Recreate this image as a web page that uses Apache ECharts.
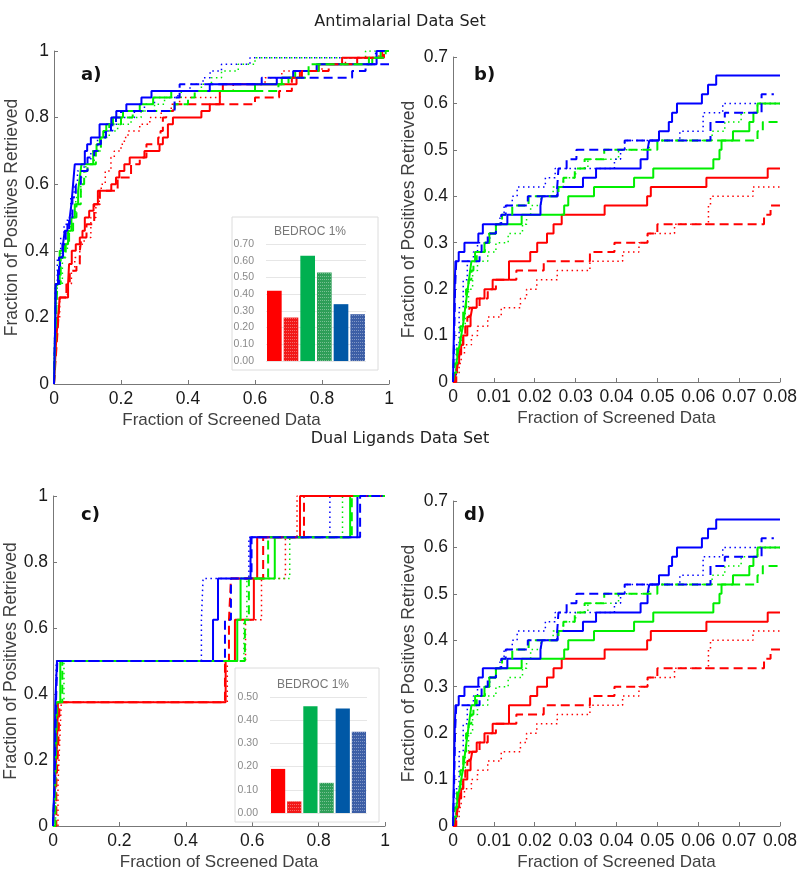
<!DOCTYPE html>
<html><head><meta charset="utf-8">
<script src="https://cdn.jsdelivr.net/npm/echarts@6/dist/echarts.min.js"></script>
<style>html,body{margin:0;padding:0;background:#fff}#c{width:800px;height:872px}</style>
</head><body><div id="c"></div>
<script>
// ---------- Titles / labels ----------
const sectionTitles = ['Antimalarial Data Set', 'Dual Ligands Data Set'];
const panelLabels = ['a)', 'b)', 'c)', 'd)'];
const xName = 'Fraction of Screened Data';
const yName = 'Fraction of Positives Retrieved';
const insetTitle = 'BEDROC 1%';

// ---------- Panel a (Antimalarial, full range) ----------
const aRedSolid = [[0,0],[0.003,0.06],[0.006,0.12],[0.01,0.18],[0.014,0.22],[0.017,0.26],[0.042,0.3],[0.045,0.36],[0.053,0.4],[0.065,0.42],[0.077,0.44],[0.085,0.46],[0.092,0.5],[0.105,0.52],[0.118,0.54],[0.131,0.58],[0.171,0.6],[0.185,0.62],[0.195,0.64],[0.21,0.66],[0.226,0.68],[0.27,0.7],[0.315,0.72],[0.325,0.74],[0.34,0.78],[0.355,0.8],[0.44,0.82],[0.465,0.84],[0.495,0.88],[0.504,0.9],[0.724,0.92],[0.734,0.94],[0.79,0.96],[0.86,0.98],[0.98,1.0],[1,1]];
const aRedDash = [[0,0],[0.004,0.06],[0.008,0.12],[0.012,0.18],[0.017,0.26],[0.037,0.3],[0.047,0.34],[0.067,0.36],[0.077,0.4],[0.082,0.44],[0.097,0.48],[0.12,0.54],[0.137,0.58],[0.19,0.62],[0.23,0.66],[0.256,0.68],[0.276,0.72],[0.311,0.74],[0.318,0.76],[0.325,0.8],[0.335,0.82],[0.356,0.84],[0.6,0.86],[0.672,0.88],[0.71,0.92],[0.74,0.94],[0.82,0.96],[0.905,0.98],[0.985,1.0],[1,1]];
const aRedDot = [[0,0],[0.003,0.1],[0.007,0.2],[0.017,0.26],[0.04,0.3],[0.052,0.34],[0.062,0.38],[0.077,0.42],[0.09,0.44],[0.11,0.5],[0.125,0.54],[0.135,0.58],[0.141,0.6],[0.153,0.64],[0.17,0.68],[0.18,0.7],[0.2,0.72],[0.21,0.74],[0.221,0.76],[0.256,0.78],[0.286,0.8],[0.32,0.82],[0.35,0.84],[0.375,0.86],[0.495,0.88],[0.535,0.9],[0.63,0.92],[0.68,0.94],[0.8,0.96],[0.87,0.98],[0.97,1.0],[1,1]];
const aGreenSolid = [[0,0],[0.002,0.1],[0.004,0.2],[0.007,0.3],[0.017,0.4],[0.032,0.42],[0.042,0.46],[0.052,0.5],[0.062,0.54],[0.072,0.58],[0.077,0.62],[0.082,0.66],[0.117,0.7],[0.127,0.72],[0.137,0.74],[0.147,0.76],[0.156,0.78],[0.176,0.8],[0.206,0.82],[0.256,0.84],[0.296,0.86],[0.35,0.88],[0.6,0.9],[0.68,0.92],[0.72,0.94],[0.79,0.96],[0.95,0.98],[0.975,1.0],[1,1]];
const aGreenDash = [[0,0],[0.003,0.1],[0.006,0.2],[0.01,0.3],[0.02,0.38],[0.035,0.42],[0.045,0.46],[0.057,0.5],[0.067,0.54],[0.08,0.6],[0.09,0.64],[0.1,0.66],[0.125,0.7],[0.14,0.74],[0.155,0.76],[0.165,0.78],[0.2,0.8],[0.235,0.82],[0.36,0.84],[0.4,0.86],[0.42,0.88],[0.67,0.9],[0.7,0.92],[0.76,0.96],[0.94,0.98],[0.99,1.0],[1,1]];
const aGreenDot = [[0,0],[0.003,0.1],[0.006,0.2],[0.01,0.3],[0.025,0.4],[0.04,0.46],[0.05,0.5],[0.065,0.56],[0.08,0.62],[0.095,0.66],[0.12,0.7],[0.14,0.74],[0.165,0.76],[0.19,0.78],[0.23,0.8],[0.26,0.82],[0.3,0.84],[0.33,0.86],[0.38,0.88],[0.44,0.9],[0.47,0.92],[0.5,0.94],[0.55,0.96],[0.6,0.98],[0.93,1.0],[1,1]];
const aBlueSolid = [[0,0],[0.002,0.1],[0.004,0.2],[0.005,0.3],[0.012,0.34],[0.018,0.38],[0.027,0.42],[0.032,0.46],[0.04,0.48],[0.047,0.5],[0.052,0.54],[0.057,0.6],[0.062,0.66],[0.092,0.7],[0.099,0.72],[0.11,0.74],[0.136,0.78],[0.171,0.8],[0.186,0.82],[0.216,0.84],[0.261,0.86],[0.291,0.88],[0.465,0.9],[0.665,0.92],[0.714,0.94],[0.784,0.96],[0.963,1.0],[1,1]];
const aBlueDash = [[0,0],[0.002,0.1],[0.004,0.2],[0.006,0.3],[0.015,0.38],[0.025,0.42],[0.035,0.46],[0.045,0.5],[0.055,0.56],[0.065,0.6],[0.08,0.64],[0.1,0.68],[0.12,0.7],[0.13,0.72],[0.14,0.74],[0.155,0.76],[0.17,0.78],[0.185,0.8],[0.2,0.82],[0.36,0.86],[0.375,0.9],[0.62,0.92],[0.89,0.94],[0.93,0.96],[1,0.96]];
const aBlueDot = [[0,0],[0.002,0.15],[0.004,0.3],[0.01,0.38],[0.02,0.44],[0.03,0.48],[0.04,0.5],[0.05,0.56],[0.06,0.6],[0.07,0.64],[0.09,0.66],[0.11,0.7],[0.13,0.74],[0.15,0.76],[0.175,0.78],[0.2,0.8],[0.24,0.82],[0.27,0.84],[0.3,0.86],[0.37,0.88],[0.406,0.9],[0.445,0.92],[0.466,0.94],[0.5,0.96],[0.585,0.98],[0.96,1.0],[1,1]];

// ---------- Panel b / d (early enrichment, 0-0.08) ----------
const bRedSolid = [[0,0],[0.0005,0.02],[0.001,0.04],[0.0015,0.06],[0.002,0.08],[0.0025,0.10],[0.0035,0.12],[0.0043,0.14],[0.0047,0.16],[0.0058,0.18],[0.0077,0.20],[0.0097,0.22],[0.0137,0.26],[0.0189,0.28],[0.0206,0.30],[0.023,0.32],[0.0246,0.34],[0.0266,0.36],[0.0371,0.38],[0.0475,0.40],[0.0484,0.42],[0.062,0.44],[0.077,0.46],[0.08,0.46]];
const bRedDash = [[0,0],[0.0008,0.02],[0.0012,0.04],[0.0016,0.06],[0.002,0.08],[0.0025,0.10],[0.003,0.12],[0.0035,0.14],[0.004,0.16],[0.0065,0.18],[0.0085,0.20],[0.0105,0.22],[0.0155,0.24],[0.0222,0.26],[0.0335,0.28],[0.0395,0.30],[0.0476,0.32],[0.05,0.34],[0.0761,0.36],[0.0777,0.38],[0.08,0.38]];
const bRedDot = [[0,0],[0.0008,0.02],[0.0015,0.04],[0.002,0.06],[0.0028,0.08],[0.0045,0.10],[0.006,0.12],[0.0085,0.14],[0.0118,0.16],[0.0165,0.18],[0.018,0.20],[0.0205,0.22],[0.0255,0.24],[0.0335,0.26],[0.0415,0.28],[0.0455,0.30],[0.0476,0.32],[0.0542,0.34],[0.0625,0.38],[0.063,0.40],[0.0734,0.42],[0.08,0.42]];
const bGreenSolid = [[0,0],[0.0003,0.02],[0.0008,0.04],[0.0012,0.06],[0.0016,0.08],[0.002,0.10],[0.0024,0.12],[0.0027,0.14],[0.003,0.16],[0.0033,0.18],[0.0036,0.20],[0.0039,0.22],[0.0042,0.24],[0.0045,0.26],[0.0054,0.28],[0.0077,0.30],[0.0089,0.32],[0.0105,0.34],[0.0168,0.36],[0.0272,0.38],[0.0282,0.40],[0.0345,0.42],[0.0443,0.44],[0.049,0.46],[0.0637,0.48],[0.0652,0.50],[0.0657,0.52],[0.0685,0.54],[0.0725,0.56],[0.0735,0.58],[0.0745,0.60],[0.08,0.60]];
const bGreenDash = [[0,0],[0.0004,0.04],[0.001,0.08],[0.0018,0.12],[0.0025,0.16],[0.0032,0.20],[0.0038,0.22],[0.0045,0.24],[0.005,0.26],[0.0058,0.28],[0.0078,0.30],[0.0088,0.32],[0.0105,0.34],[0.012,0.36],[0.0145,0.38],[0.0185,0.40],[0.0258,0.42],[0.027,0.44],[0.0298,0.46],[0.0322,0.48],[0.037,0.50],[0.05,0.52],[0.0745,0.54],[0.0758,0.56],[0.08,0.56]];
const bGreenDot = [[0,0],[0.0008,0.04],[0.0015,0.08],[0.0022,0.12],[0.003,0.16],[0.0038,0.20],[0.0048,0.24],[0.006,0.26],[0.0085,0.28],[0.0105,0.30],[0.0135,0.32],[0.017,0.34],[0.018,0.36],[0.019,0.38],[0.0215,0.40],[0.0245,0.42],[0.027,0.44],[0.03,0.46],[0.033,0.48],[0.0405,0.50],[0.048,0.52],[0.0634,0.54],[0.0665,0.56],[0.0705,0.58],[0.0745,0.60],[0.08,0.60]];
const bBlueSolid = [[0,0],[0.0002,0.1],[0.0004,0.2],[0.0006,0.26],[0.0014,0.28],[0.0028,0.30],[0.0062,0.32],[0.0073,0.34],[0.0133,0.36],[0.0214,0.38],[0.0218,0.40],[0.0256,0.42],[0.0318,0.44],[0.035,0.46],[0.0459,0.48],[0.0476,0.50],[0.048,0.52],[0.0504,0.54],[0.0528,0.56],[0.0536,0.58],[0.0548,0.60],[0.0609,0.62],[0.0624,0.64],[0.0644,0.66],[0.08,0.66]];
const bBlueDash = [[0,0],[0.0003,0.1],[0.0005,0.2],[0.0008,0.26],[0.0065,0.28],[0.007,0.30],[0.0085,0.32],[0.0105,0.34],[0.0118,0.36],[0.0129,0.38],[0.0183,0.40],[0.0255,0.42],[0.0258,0.46],[0.0278,0.48],[0.0302,0.50],[0.042,0.52],[0.063,0.56],[0.0665,0.58],[0.0755,0.62],[0.0785,0.62]];
const bBlueDot = [[0,0],[0.0008,0.08],[0.0015,0.16],[0.0025,0.22],[0.0035,0.26],[0.005,0.28],[0.006,0.30],[0.009,0.32],[0.0105,0.34],[0.0115,0.36],[0.0125,0.38],[0.0145,0.40],[0.0157,0.42],[0.0226,0.44],[0.025,0.46],[0.0395,0.48],[0.041,0.50],[0.042,0.52],[0.0555,0.54],[0.0612,0.58],[0.066,0.60],[0.08,0.60]];

// ---------- Panel c (Dual ligands, full range) ----------
const cRedSolid = [[0,0],[0.006,0.125],[0.012,0.25],[0.015,0.375],[0.52,0.5],[0.548,0.625],[0.605,0.75],[0.615,0.875],[0.744,1],[1,1]];
const cRedDash = [[0,0],[0.01,0.125],[0.016,0.25],[0.02,0.375],[0.518,0.5],[0.53,0.625],[0.536,0.75],[0.633,0.875],[0.756,1],[1,1]];
const cRedDot = [[0,0],[0.015,0.125],[0.02,0.25],[0.025,0.375],[0.525,0.5],[0.58,0.625],[0.628,0.75],[0.7,0.875],[0.735,1],[1,1]];
const cGreenSolid = [[0,0],[0.005,0.125],[0.008,0.25],[0.01,0.375],[0.022,0.5],[0.555,0.625],[0.565,0.75],[0.668,0.875],[0.895,1],[1,1]];
const cGreenDash = [[0,0],[0.007,0.125],[0.01,0.25],[0.012,0.375],[0.028,0.5],[0.578,0.625],[0.59,0.75],[0.648,0.875],[0.9,1],[1,1]];
const cGreenDot = [[0,0],[0.008,0.125],[0.012,0.25],[0.016,0.375],[0.033,0.5],[0.575,0.625],[0.584,0.75],[0.713,0.875],[0.872,1],[1,1]];
const cBlueSolid = [[0,0],[0.004,0.125],[0.005,0.25],[0.007,0.375],[0.012,0.5],[0.482,0.625],[0.497,0.75],[0.595,0.875],[0.917,1],[1,1]];
const cBlueDash = [[0,0],[0.005,0.125],[0.007,0.25],[0.009,0.375],[0.013,0.5],[0.518,0.625],[0.536,0.75],[0.598,0.875],[0.925,1],[1,1]];
const cBlueDot = [[0,0],[0.004,0.125],[0.006,0.25],[0.008,0.375],[0.01,0.5],[0.447,0.625],[0.452,0.75],[0.59,0.875],[0.834,1],[1,1]];

// ---------- Insets (BEDROC 1%) ----------
const insetCats = ['r1','r2','g1','g2','b1','b2'];
const insetAValues = [0.42, 0.26, 0.63, 0.53, 0.34, 0.28];
const insetCValues = [0.19, 0.05, 0.46, 0.13, 0.45, 0.35];

// ---------- Style ----------
const LINE = {red:'#ff0000', green:'#00ee00', blue:'#0000ff'};
const BAR = ['#ff0000','#f21818','#00b050','#2e9e58','#0058a6','#3c5ea6'];
const PATTERNED = [false,true,false,true,false,true];
const STYLE = {
  solid:{type:'solid', width:2},
  dash:{type:[9,5], width:2},
  dot:{type:[1.5,3.5], width:1.5}
};

const panels = [
  {sets:[[aRedDot,'red','dot'],[aRedDash,'red','dash'],[aRedSolid,'red','solid'],[aGreenDot,'green','dot'],[aGreenDash,'green','dash'],[aGreenSolid,'green','solid'],[aBlueDot,'blue','dot'],[aBlueDash,'blue','dash'],[aBlueSolid,'blue','solid']]},
  {sets:[[bRedDot,'red','dot'],[bRedDash,'red','dash'],[bRedSolid,'red','solid'],[bGreenDot,'green','dot'],[bGreenDash,'green','dash'],[bGreenSolid,'green','solid'],[bBlueDot,'blue','dot'],[bBlueDash,'blue','dash'],[bBlueSolid,'blue','solid']]},
  {sets:[[cRedDot,'red','dot'],[cRedDash,'red','dash'],[cRedSolid,'red','solid'],[cGreenDot,'green','dot'],[cGreenDash,'green','dash'],[cGreenSolid,'green','solid'],[cBlueDot,'blue','dot'],[cBlueDash,'blue','dash'],[cBlueSolid,'blue','solid']]},
  {sets:[[bRedDot,'red','dot'],[bRedDash,'red','dash'],[bRedSolid,'red','solid'],[bGreenDot,'green','dot'],[bGreenDash,'green','dash'],[bGreenSolid,'green','solid'],[bBlueDot,'blue','dot'],[bBlueDash,'blue','dash'],[bBlueSolid,'blue','solid']]}
];

const grids = [
  {left:54, top:51, width:335, height:333},
  {left:453, top:57, width:331, height:325},
  {left:53, top:496, width:332, height:331},
  {left:453, top:501, width:331, height:326},
  {left:266, top:244, width:100, height:117},
  {left:270, top:697, width:97, height:116}
];
const xRanges = [[0,1,0.2],[0,0.08,0.01],[0,1,0.2],[0,0.08,0.01]];
const yRanges = [[0,1,0.2],[0,0.7,0.1],[0,1,0.2],[0,0.7,0.1]];

const axisFont = 'Liberation Sans, Arial, sans-serif';
const xAxes = [], yAxes = [], series = [];
const fmt = v => { if (v === 0) return '0'; if (Math.abs(v-1) < 1e-9) return '1'; return (+v.toFixed(3)).toString(); };
for (let i = 0; i < 4; i++) {
  const [xmin,xmax,xint] = xRanges[i];
  const [ymin,ymax,yint] = yRanges[i];
  xAxes.push({type:'value', gridIndex:i, min:xmin, max:xmax, interval:xint,
    name:xName, nameLocation:'middle', nameGap:28,
    nameTextStyle:{fontFamily:axisFont, fontSize:17, color:'#404040'},
    axisLine:{show:true, lineStyle:{color:'#777', width:1}},
    axisTick:{show:true, inside:true, length:4, lineStyle:{color:'#777'}},
    axisLabel:{fontFamily:axisFont, fontSize:17.5, color:'#1a1a1a', margin:6, formatter:fmt, showMaxLabel:true},
    splitLine:{show:false}});
  yAxes.push({type:'value', gridIndex:i, min:ymin, max:ymax, interval:yint,
    name:yName, nameLocation:'middle', nameGap:i%2===0?32:35,
    nameTextStyle:{fontFamily:axisFont, fontSize:17.5, color:'#404040'},
    axisLine:{show:true, lineStyle:{color:'#777', width:1}},
    axisTick:{show:true, inside:true, length:4, lineStyle:{color:'#777'}},
    axisLabel:{fontFamily:axisFont, fontSize:17.5, color:'#1a1a1a', margin:5, formatter:fmt, showMaxLabel:true},
    splitLine:{show:false}});
  panels[i].sets.forEach(([data,col,sty]) => {
    series.push({type:'line', xAxisIndex:i, yAxisIndex:i, data:data, step:'end',
      showSymbol:false, symbol:'none', silent:true,
      lineStyle:{color:LINE[col], type:STYLE[sty].type, width:STYLE[sty].width, cap:'butt'},
      z: sty==='solid'?3:(sty==='dash'?4:2)});
  });
}
// Insets
const insetDefs = [[4, insetAValues, 0.7],[5, insetCValues, 0.5]];
insetDefs.forEach(([gi, vals, ymax]) => {
  xAxes.push({type:'category', gridIndex:gi, data:insetCats, z:6, axisLine:{show:false}, axisTick:{show:false}, axisLabel:{show:false}});
  yAxes.push({type:'value', gridIndex:gi, min:0, max:ymax, interval:0.1, z:6,
    axisLine:{show:false}, axisTick:{show:false},
    axisLabel:{fontFamily:axisFont, fontSize:10.5, color:'#8a8a8a', margin:12, formatter:v=>v.toFixed(2)},
    splitLine:{show:true, lineStyle:{color:'#e6e6e6', width:1}}});
  series.push({type:'bar', xAxisIndex:gi, yAxisIndex:gi, barCategoryGap:'12%', silent:true, z:20,
    data: vals.map((v,k)=>{
      const it = {color:BAR[k]};
      if (PATTERNED[k]) it.decal = {symbol:'rect', symbolSize:1, color:'rgba(255,255,255,0.35)', dashArrayX:[1,1], dashArrayY:[1,2], rotation:0};
      return {value:v, itemStyle:it};
    })});
});

const chart = echarts.init(document.getElementById('c'), null, {renderer:'canvas'});
chart.setOption({
  animation:false,
  backgroundColor:'#fff',
  title:[
    {text:sectionTitles[0], left:'center', top:9, textStyle:{fontFamily:'DejaVu Sans', fontSize:16, fontWeight:'normal', color:'#222'}},
    {text:sectionTitles[1], left:'center', top:426, textStyle:{fontFamily:'DejaVu Sans', fontSize:16, fontWeight:'normal', color:'#222'}},
    {text:insetTitle, left:305, top:221, textAlign:'center', z:8, textStyle:{fontFamily:axisFont, fontSize:12, fontWeight:'normal', color:'#777'}},
    {text:insetTitle, left:308, top:674, textAlign:'center', z:8, textStyle:{fontFamily:axisFont, fontSize:12, fontWeight:'normal', color:'#777'}}
  ],
  graphic:[
    {type:'rect', shape:{x:232, y:217, width:146, height:153}, style:{fill:'#fff', stroke:'#dcdcdc', lineWidth:1}, z:1, silent:true},
    {type:'rect', shape:{x:235, y:668, width:144, height:154}, style:{fill:'#fff', stroke:'#dcdcdc', lineWidth:1}, z:1, silent:true},
    {type:'text', left:81, top:66, style:{text:panelLabels[0], font:'bold 18px "DejaVu Sans"', fill:'#111'}, z:15},
    {type:'text', left:474, top:66, style:{text:panelLabels[1], font:'bold 18px "DejaVu Sans"', fill:'#111'}, z:15},
    {type:'text', left:81, top:506, style:{text:panelLabels[2], font:'bold 18px "DejaVu Sans"', fill:'#111'}, z:15},
    {type:'text', left:464, top:506, style:{text:panelLabels[3], font:'bold 18px "DejaVu Sans"', fill:'#111'}, z:15}
  ],
  grid:grids.map(g=>Object.assign({containLabel:false}, g)),
  xAxis:xAxes, yAxis:yAxes, series:series
});
</script></body></html>
